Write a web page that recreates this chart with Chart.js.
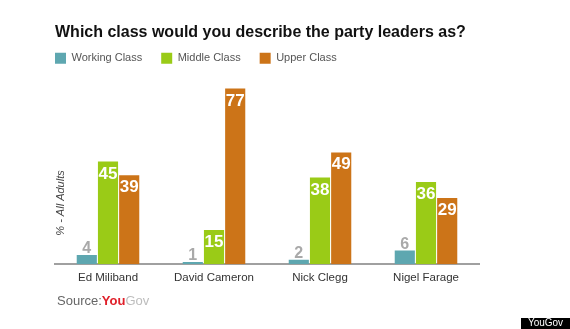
<!DOCTYPE html>
<html>
<head>
<meta charset="utf-8">
<script src="https://cdn.jsdelivr.net/npm/chart.js@4.4.0/dist/chart.umd.min.js"></script>
<style>
  html, body { margin: 0; padding: 0; background: #fff; }
</style>
</head>
<body>
<canvas id="classChart" width="570" height="329"></canvas>
<script>
// categories
var leaders = ["Ed Miliband", "David Cameron", "Nick Clegg", "Nigel Farage"];
// series values (% - all adults)
var workingClass = [4, 1, 2, 6];
var middleClass = [45, 15, 38, 36];
var upperClass = [39, 77, 49, 29];
var seriesNames = ["Working Class", "Middle Class", "Upper Class"];
var yMax = 83.5;

var FONT = '"Liberation Sans", Arial, sans-serif';

// numbers on the bars
var barLabels = {
  id: 'barLabels',
  afterDatasetsDraw: function (chart) {
    var ctx = chart.ctx;
    ctx.save();
    ctx.textAlign = 'center';
    ctx.textBaseline = 'alphabetic';
    chart.data.datasets.forEach(function (ds, i) {
      var meta = chart.getDatasetMeta(i);
      meta.data.forEach(function (bar, j) {
        var v = ds.data[j];
        if (i === 0) {
          // working class: grey, above the bar
          ctx.font = 'bold 16px ' + FONT;
          ctx.fillStyle = '#a9a9a9';
          ctx.fillText(v, bar.x, bar.y - 2);
        } else {
          ctx.font = 'bold 17px ' + FONT;
          ctx.fillStyle = '#ffffff';
          ctx.fillText(v, bar.x, bar.y + 17);
        }
      });
    });
    ctx.restore();
  }
};

// axis title, source line, corner tag
var extras = {
  id: 'extras',
  afterDraw: function (chart) {
    var ctx = chart.ctx;
    ctx.save();

    // y title inside the plot
    ctx.translate(61, 203);
    ctx.rotate(-Math.PI / 2);
    ctx.font = 'italic 11px ' + FONT;
    ctx.fillStyle = '#444';
    ctx.textAlign = 'center';
    ctx.textBaseline = 'middle';
    ctx.fillText('% - All Adults', 0, 0);
    ctx.setTransform(1, 0, 0, 1, 0, 0);

    // Source: YouGov
    var x = 57, y = 305;
    ctx.textAlign = 'left';
    ctx.textBaseline = 'alphabetic';
    ctx.font = '13px ' + FONT;
    ctx.fillStyle = '#666';
    ctx.fillText('Source:', x, y);
    x += ctx.measureText('Source:').width;
    ctx.font = 'bold 13px ' + FONT;
    ctx.fillStyle = '#e0202a';
    ctx.fillText('You', x, y);
    x += ctx.measureText('You').width;
    ctx.font = '13px ' + FONT;
    ctx.fillStyle = '#bdbdbd';
    ctx.fillText('Gov', x, y);

    // black tag bottom right
    ctx.fillStyle = '#000';
    ctx.fillRect(521, 318, 49, 11);
    ctx.fillStyle = '#fff';
    ctx.font = '10px ' + FONT;
    ctx.textAlign = 'center';
    ctx.textBaseline = 'middle';
    ctx.fillText('YouGov', 545.5, 323.5);

    ctx.restore();
  }
};

var ctx = document.getElementById('classChart');
var myChart = new Chart(ctx, {
  type: 'bar',
  data: {
    labels: leaders,
    datasets: [
      { label: seriesNames[0], data: workingClass, backgroundColor: '#5ea7b0' },
      { label: seriesNames[1], data: middleClass, backgroundColor: '#9acb17' },
      { label: seriesNames[2], data: upperClass, backgroundColor: '#cc7418' }
    ]
  },
  options: {
    responsive: false,
    animation: false,
    devicePixelRatio: 1,
    layout: {
      padding: { left: 36, right: 91, top: 0, bottom: 37 }
    },
    datasets: {
      bar: {
        categoryPercentage: 0.6,
        barPercentage: 0.95
      }
    },
    plugins: {
      title: {
        display: true,
        text: 'Which class would you describe the party leaders as?',
        align: 'start',
        fullSize: false,
        color: '#111',
        font: { family: FONT, size: 16, weight: 'bold' },
        padding: { top: 23, bottom: -8.5 }
      },
      legend: {
        display: true,
        align: 'start',
        labels: {
          boxWidth: 11,
          boxHeight: 11,
          padding: 19,
          color: '#555',
          font: { family: FONT, size: 11 }
        }
      },
      tooltip: { enabled: false }
    },
    scales: {
      x: {
        grid: { display: false, drawTicks: false },
        border: { display: true, color: '#a0a0a0', width: 2 },
        ticks: {
          color: '#333',
          padding: 7,
          font: { family: FONT, size: 11.5 }
        }
      },
      y: {
        min: 0,
        max: yMax,
        grid: { display: false, drawTicks: false },
        border: { display: false },
        ticks: { display: false },
        afterFit: function (scale) { scale.width = 19; }
      }
    }
  },
  plugins: [barLabels, extras]
});
</script>
</body>
</html>
